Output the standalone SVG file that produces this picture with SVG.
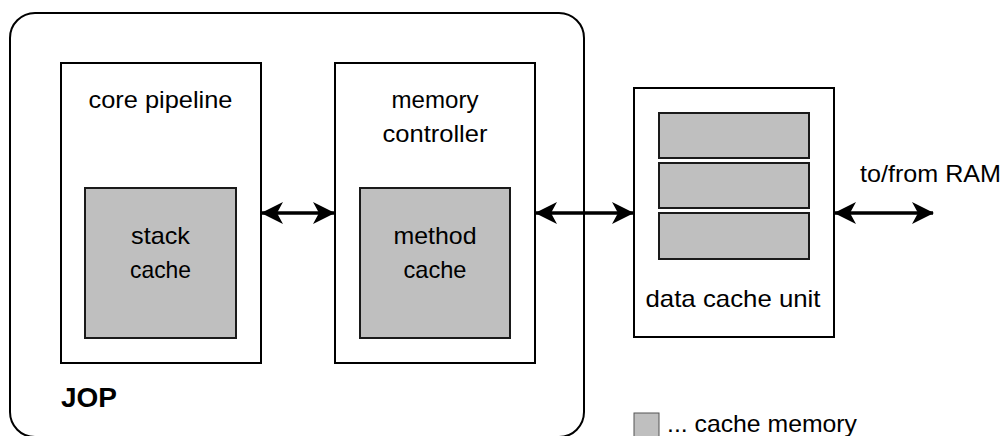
<svg xmlns="http://www.w3.org/2000/svg" width="1003" height="436" viewBox="0 0 1003 436">
  <defs>
    <style>
      .box { fill: #ffffff; stroke: #000000; stroke-width: 2; }
      .mem { fill: #bfbfbf; stroke: #1a1a1a; stroke-width: 2; }
      .lbl { font-family: "Liberation Sans", Arial, sans-serif; font-size: 24px; fill: #000000; }
      .ctr { text-anchor: middle; }
      .conn { stroke: #000000; stroke-width: 3.5; fill: none; marker-start: url(#head); marker-end: url(#head); }
    </style>
    <marker id="head" viewBox="0 0 22 22" refX="21" refY="11" markerWidth="22" markerHeight="22" markerUnits="userSpaceOnUse" orient="auto-start-reverse">
      <path d="M0,0 L22,11 L0,22 L6,11 Z" fill="#000000"/>
    </marker>
  </defs>
  <rect width="1003" height="436" fill="#ffffff"/>

  <g id="jop">
    <rect class="box" x="10" y="13" width="574" height="424" rx="25" ry="25"/>
    <text x="61" y="407" font-family="Liberation Sans, Arial, sans-serif" font-size="27" font-weight="bold" textLength="56" lengthAdjust="spacingAndGlyphs">JOP</text>
  </g>

  <g id="core-pipeline">
    <rect class="box" x="61" y="63" width="200" height="300"/>
    <text class="lbl ctr" x="160.5" y="108" textLength="144" lengthAdjust="spacingAndGlyphs">core pipeline</text>
  </g>

  <g id="stack-cache">
    <rect class="mem" x="85" y="188" width="151" height="150"/>
    <text class="lbl ctr" x="160.5" y="244" textLength="59" lengthAdjust="spacingAndGlyphs">stack</text>
    <text class="lbl ctr" x="160.5" y="278" textLength="61" lengthAdjust="spacingAndGlyphs">cache</text>
  </g>

  <g id="memory-controller">
    <rect class="box" x="335" y="63" width="200" height="300"/>
    <text class="lbl ctr" x="435" y="108" textLength="87" lengthAdjust="spacingAndGlyphs">memory</text>
    <text class="lbl ctr" x="435" y="142" textLength="105" lengthAdjust="spacingAndGlyphs">controller</text>
  </g>

  <g id="method-cache">
    <rect class="mem" x="360" y="188" width="150" height="150"/>
    <text class="lbl ctr" x="435" y="244" textLength="83" lengthAdjust="spacingAndGlyphs">method</text>
    <text class="lbl ctr" x="435" y="278" textLength="63" lengthAdjust="spacingAndGlyphs">cache</text>
  </g>

  <g id="data-cache-unit">
    <rect class="box" x="634" y="88" width="200" height="249"/>
    <rect class="mem" x="659" y="113" width="150" height="45"/>
    <rect class="mem" x="659" y="163" width="150" height="45"/>
    <rect class="mem" x="659" y="213" width="150" height="46"/>
    <text class="lbl ctr" x="733" y="307" textLength="175" lengthAdjust="spacingAndGlyphs">data cache unit</text>
  </g>

  <g id="ram-label">
    <text class="lbl" x="860" y="182" textLength="141" lengthAdjust="spacingAndGlyphs">to/from RAM</text>
  </g>

  <g id="legend">
    <rect x="634" y="413" width="25" height="24" fill="#bfbfbf" stroke="#555555" stroke-width="1"/>
    <text class="lbl" x="667" y="432" textLength="190" lengthAdjust="spacingAndGlyphs">... cache memory</text>
  </g>

  <g id="connectors">
    <line class="conn" x1="262" y1="213" x2="334" y2="213"/>
    <line class="conn" x1="536" y1="213" x2="633" y2="213"/>
    <line class="conn" x1="835" y1="213" x2="933" y2="213"/>
  </g>
</svg>
